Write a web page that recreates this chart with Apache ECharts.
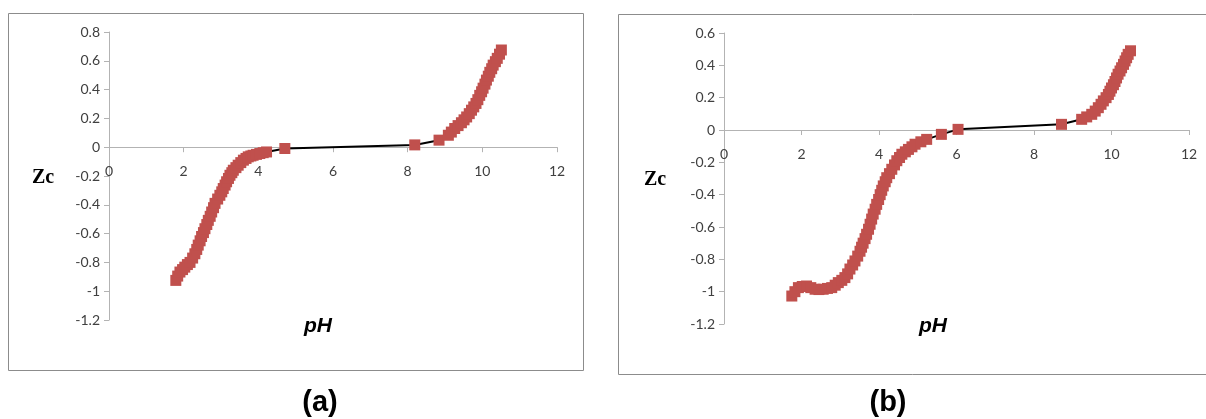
<!DOCTYPE html>
<html>
<head>
<meta charset="utf-8">
<script src="https://cdn.jsdelivr.net/npm/echarts@6/dist/echarts.min.js"></script>
<style>
  html, body { margin: 0; padding: 0; background: #fff; }
  #chart { width: 1206px; height: 419px; }
</style>
</head>
<body>
<div id="chart"></div>
<script>
// (a) pH vs Zc
const phA = [1.79, 1.84, 1.90, 1.97, 2.03, 2.10, 2.17, 2.24, 2.30, 2.35, 2.39, 2.44, 2.48, 2.53, 2.57, 2.62, 2.66, 2.71, 2.75, 2.80, 2.84, 2.91, 2.97,
             3.02, 3.06, 3.11, 3.15, 3.20, 3.24, 3.29, 3.33, 3.40, 3.46, 3.53, 3.60, 3.67, 3.73, 3.80, 3.86, 3.95, 4.04, 4.13, 4.22, 4.71,
             8.19, 8.84, 9.09, 9.17, 9.26, 9.35, 9.44, 9.51, 9.58, 9.65, 9.71, 9.77, 9.83, 9.88, 9.93, 9.98, 10.02, 10.07, 10.11, 10.16,
             10.20, 10.25, 10.29, 10.35, 10.40, 10.46, 10.51]
const zcA = [-0.925, -0.895, -0.867, -0.85, -0.833, -0.815, -0.80, -0.77, -0.74, -0.71, -0.68, -0.65, -0.62, -0.593, -0.566, -0.537, -0.508, -0.48, -0.45, -0.42, -0.39, -0.36, -0.334,
             -0.31, -0.287, -0.263, -0.24, -0.217, -0.195, -0.177, -0.16, -0.142, -0.125, -0.107, -0.09, -0.078, -0.067, -0.061, -0.056, -0.05, -0.044, -0.038, -0.033, -0.009,
             0.016, 0.049, 0.083, 0.105, 0.13, 0.15, 0.17, 0.19, 0.21, 0.233, 0.257, 0.28, 0.304, 0.33, 0.36, 0.385, 0.41, 0.438, 0.466, 0.493,
             0.52, 0.545, 0.57, 0.594, 0.617, 0.646, 0.675]

// (b) pH vs Zc
const phB = [1.75, 1.83, 1.92, 2.02, 2.13, 2.24, 2.35, 2.45, 2.56, 2.67, 2.78, 2.87, 2.95, 3.04, 3.12, 3.19, 3.25, 3.32, 3.38, 3.45, 3.51, 3.55, 3.59,
             3.64, 3.68, 3.73, 3.77, 3.81, 3.85, 3.90, 3.94, 3.99, 4.03, 4.07, 4.11, 4.16, 4.20, 4.27, 4.33, 4.40, 4.46, 4.53, 4.59, 4.68, 4.76,
             4.85, 4.93, 5.08, 5.23, 5.61, 6.04,
             8.71, 9.23, 9.36, 9.49, 9.58, 9.66, 9.73, 9.79, 9.86, 9.92, 9.96, 10.00, 10.05, 10.09, 10.13, 10.17, 10.22, 10.26, 10.31, 10.35,
             10.39, 10.43, 10.49]
const zcB = [-1.027, -1.0, -0.975, -0.968, -0.965, -0.975, -0.985, -0.987, -0.985, -0.98, -0.975, -0.96, -0.944, -0.93, -0.913, -0.89, -0.86, -0.835, -0.81, -0.78, -0.75, -0.725, -0.70,
             -0.672, -0.645, -0.614, -0.583, -0.551, -0.52, -0.49, -0.46, -0.43, -0.40, -0.373, -0.346, -0.32, -0.295, -0.27, -0.243, -0.216, -0.19, -0.17, -0.15, -0.135, -0.12,
             -0.104, -0.088, -0.073, -0.058, -0.027, 0.004,
             0.035, 0.066, 0.081, 0.097, 0.117, 0.138, 0.159, 0.18, 0.20, 0.22, 0.24, 0.26, 0.28, 0.30, 0.322, 0.345, 0.365, 0.385, 0.406, 0.427,
             0.447, 0.468, 0.49]

const tickFont = 'Lato, "Open Sans", sans-serif'
const axisGray = '#b3b3b3'

function pairs(xs, ys) {
    return xs.map((x, i) => [x, ys[i]])
}

// x axis crosses at Zc = 0, labels sit under the crossing
function xAxisOf(gridIndex, offset) {
    return {
        type: 'value', gridIndex: gridIndex, min: 0, max: 12, interval: 2,
        position: 'bottom', offset: offset,
        axisLine: { onZero: false, lineStyle: { color: axisGray, width: 1 } },
        axisTick: { show: true, inside: false, length: 5, lineStyle: { color: axisGray } },
        axisLabel: { color: '#404040', fontSize: 14, fontFamily: tickFont, margin: 17 },
        splitLine: { show: false }
    }
}

function yAxisOf(gridIndex, max) {
    return {
        type: 'value', gridIndex: gridIndex, min: -1.2, max: max, interval: 0.2,
        axisLine: { show: true, onZero: false, lineStyle: { color: axisGray, width: 1 } },
        axisTick: { show: true, inside: false, length: 5, lineStyle: { color: axisGray } },
        axisLabel: {
            color: '#404040', fontSize: 14, fontFamily: tickFont, margin: 9,
            formatter: v => String(Math.round(v * 10) / 10)
        },
        splitLine: { show: false }
    }
}

function seriesOf(idx, data) {
    return {
        type: 'line', xAxisIndex: idx, yAxisIndex: idx,
        data: data,
        symbol: 'rect', symbolSize: 11,
        showAllSymbol: true,
        lineStyle: { color: '#000', width: 2 },
        itemStyle: { color: '#c0504d' },
        animation: false,
        z: 3
    }
}

function label(x, y, s, font) {
    return { type: 'text', x: x, y: y, style: { text: s, font: font, fill: '#000', align: 'center', verticalAlign: 'middle' } }
}

const zcFont = 'bold 20px "Liberation Serif", serif'
const phFont = 'italic bold 21px "Liberation Sans", Arial, sans-serif'
const capFont = 'bold 29px "Liberation Sans", Arial, sans-serif'

var myChart = echarts.init(document.getElementById('chart'))
var option = {
    animation: false,
    grid: [
        { left: 109, top: 32, width: 448, height: 288 },
        { left: 724, top: 33, width: 465, height: 291 }
    ],
    // offset = distance from the grid bottom up to Zc = 0
    xAxis: [xAxisOf(0, -288 * 1.2 / 2.0), xAxisOf(1, -291 * 1.2 / 1.8)],
    yAxis: [yAxisOf(0, 0.8), yAxisOf(1, 0.6)],
    series: [seriesOf(0, pairs(phA, zcA)), seriesOf(1, pairs(phB, zcB))],
    graphic: [
        { type: 'rect', shape: { x: 8.5, y: 13.5, width: 575, height: 357 }, style: { fill: 'none', stroke: '#8c8c8c', lineWidth: 1 }, z: -1 },
        { type: 'rect', shape: { x: 618.5, y: 14.5, width: 600, height: 360 }, style: { fill: 'none', stroke: '#8c8c8c', lineWidth: 1 }, z: -1 },
        label(43, 178, 'Zc', zcFont),
        label(655, 180, 'Zc', zcFont),
        label(318, 326, 'pH', phFont),
        label(933, 326, 'pH', phFont),
        label(320, 403, '(a)', capFont),
        label(888, 403, '(b)', capFont)
    ]
}

option && myChart.setOption(option)
window.addEventListener('resize', myChart.resize)
</script>
</body>
</html>
